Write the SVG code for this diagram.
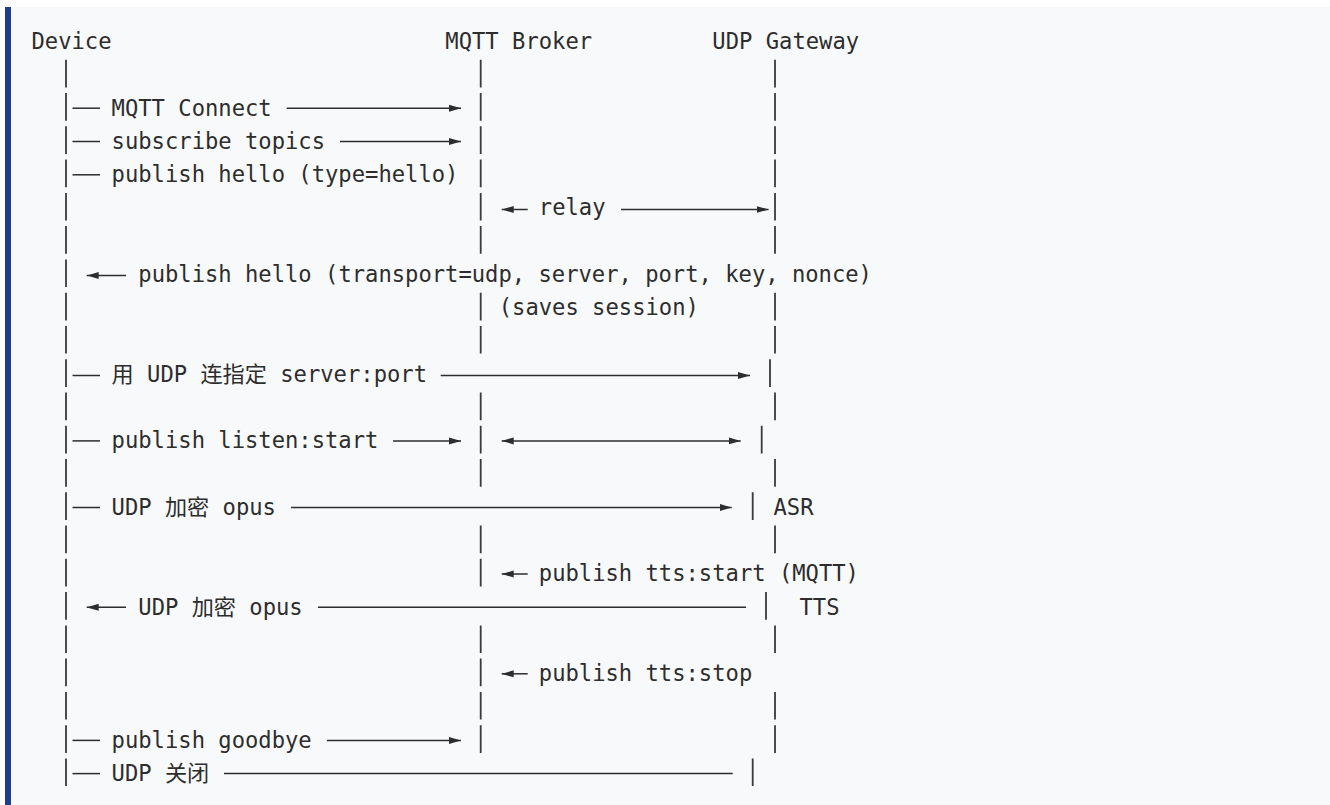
<svg xmlns="http://www.w3.org/2000/svg" width="1330" height="805" viewBox="0 0 1330 805">
  <style>
    .t { font-family: "DejaVu Sans Mono", "Noto Sans CJK SC", monospace; font-size: 22.17px; fill: #2d2d2d; white-space: pre; }
    .life { fill: none; stroke: #3a3a3a; stroke-width: 1.8; }
    .msg { fill: none; stroke: #2d2d2d; stroke-width: 1.5; }
    .head { marker-end: url(#arrow); }
    .tail { marker-start: url(#arrow); }
  </style>
  <defs>
    <marker id="arrow" viewBox="0 0 12 8" refX="12" refY="4" markerWidth="12" markerHeight="8" markerUnits="userSpaceOnUse" orient="auto-start-reverse">
      <path d="M0,0.5 L12,4 L0,7.5 z" fill="#2d2d2d"/>
    </marker>
  </defs>

  <!-- code block background and left rule -->
  <rect x="0" y="0" width="1330" height="805" fill="#ffffff"/>
  <rect x="5" y="7" width="1325" height="798" fill="#f8f9fb"/>
  <rect x="5" y="7" width="6" height="798" fill="#1f3b8c"/>

  <!-- participants: header label plus lifeline segments -->
  <g id="device">
    <text class="t" x="31.5" y="49">Device</text>
    <path class="life" d="M66,59.8v27.7M66,93v27.7M66,126.3v27.7M66,159.6v27.7M66,192.9v27.7M66,226.1v27.7M66,259.4v27.7M66,292.7v27.7M66,325.9v27.7M66,359.2v27.7M66,392.5v27.7M66,425.7v27.7M66,459v27.7M66,492.3v27.7M66,525.6v27.7M66,558.8v27.7M66,592.1v27.7M66,625.4v27.7M66,658.6v27.7M66,691.9v27.7M66,725.2v27.7M66,758.4v27.7"/>
  </g>
  <g id="broker">
    <text class="t" x="445.35" y="49">MQTT Broker</text>
    <path class="life" d="M480.7,59.8v27.7M480.7,93v27.7M480.7,126.3v27.7M480.7,159.6v27.7M480.7,192.9v27.7M480.7,226.1v27.7M480.7,292.7v27.7M480.7,325.9v27.7M480.7,392.5v27.7M480.7,425.7v27.7M480.7,459v27.7M480.7,525.6v27.7M480.7,558.8v27.7M480.7,625.4v27.7M480.7,658.6v27.7M480.7,691.9v27.7M480.7,725.2v27.7"/>
  </g>
  <g id="gateway">
    <text class="t" x="712.35" y="49">UDP Gateway</text>
    <path class="life" d="M775,59.8v27.7M775,93v27.7M775,126.3v27.7M775,159.6v27.7M775,192.9v27.7M775,226.1v27.7M775,292.7v27.7M775,325.9v27.7M770,359.2v27.7M775,392.5v27.7M761.7,425.7v27.7M775,459v27.7M752.7,492.3v27.7M775,525.6v27.7M766,592.1v27.7M775,625.4v27.7M775,691.9v27.7M775,725.2v27.7M752.7,758.4v27.7"/>
    <text class="t" x="773.5" y="514.78">ASR</text>
    <text class="t" x="799.5" y="614.59">TTS</text>
  </g>

  <!-- message arrows -->
  <g id="connectors">
    <!-- MQTT Connect -->
    <path class="msg" d="M72.5,108.2H100"/>
    <path class="msg head" d="M286.7,108.2H461"/>
    <!-- subscribe topics -->
    <path class="msg" d="M72.5,141.5H100"/>
    <path class="msg head" d="M340,141.5H461"/>
    <!-- publish hello -->
    <path class="msg" d="M72.5,174.8H100"/>
    <!-- relay -->
    <path class="msg tail" d="M501.7,209.5H527.7"/>
    <path class="msg head" d="M621,209.5H768.5"/>
    <!-- hello reply -->
    <path class="msg tail" d="M86.7,275.5H126"/>
    <!-- UDP connect -->
    <path class="msg" d="M72.5,375.5H100"/>
    <path class="msg head" d="M440.7,375.5H750"/>
    <!-- listen:start -->
    <path class="msg" d="M72.5,440.9H100"/>
    <path class="msg head" d="M393,440.9H461"/>
    <path class="msg head tail" d="M501.7,440.9H740.7"/>
    <!-- uplink audio -->
    <path class="msg" d="M72.5,507.5H100"/>
    <path class="msg head" d="M291,507.5H731.7"/>
    <!-- tts:start -->
    <path class="msg tail" d="M501.7,574H527.7"/>
    <!-- downlink audio -->
    <path class="msg tail" d="M86.7,607.3H126"/>
    <path class="msg" d="M318,607.3H746"/>
    <!-- tts:stop -->
    <path class="msg tail" d="M501.7,673.8H527.7"/>
    <!-- goodbye -->
    <path class="msg" d="M72.5,740.4H100"/>
    <path class="msg head" d="M327,740.4H461"/>
    <!-- UDP close -->
    <path class="msg" d="M72.5,773.6H100"/>
    <path class="msg" d="M224,773.6H732.7"/>
  </g>

  <!-- message labels -->
  <g id="labels">
    <text class="t" x="111.6" y="115.54">MQTT Connect</text>
    <text class="t" x="111.6" y="148.81">subscribe topics</text>
    <text class="t" x="111.6" y="182.08">publish hello (type=hello)</text>
    <text class="t" x="538.8" y="215.35">relay</text>
    <text class="t" x="138.3" y="281.89">publish hello (transport=udp, server, port, key, nonce)</text>
    <text class="t" x="498.75" y="315.16">(saves session)</text>
    <text class="t" x="111.6" y="381.7">用 UDP 连指定 server:port</text>
    <text class="t" x="111.6" y="448.24">publish listen:start</text>
    <text class="t" x="111.6" y="514.78">UDP 加密 opus</text>
    <text class="t" x="538.8" y="581.32">publish tts:start (MQTT)</text>
    <text class="t" x="138.3" y="614.59">UDP 加密 opus</text>
    <text class="t" x="538.8" y="681.13">publish tts:stop</text>
    <text class="t" x="111.6" y="747.67">publish goodbye</text>
    <text class="t" x="111.6" y="780.94">UDP 关闭</text>
  </g>
</svg>
